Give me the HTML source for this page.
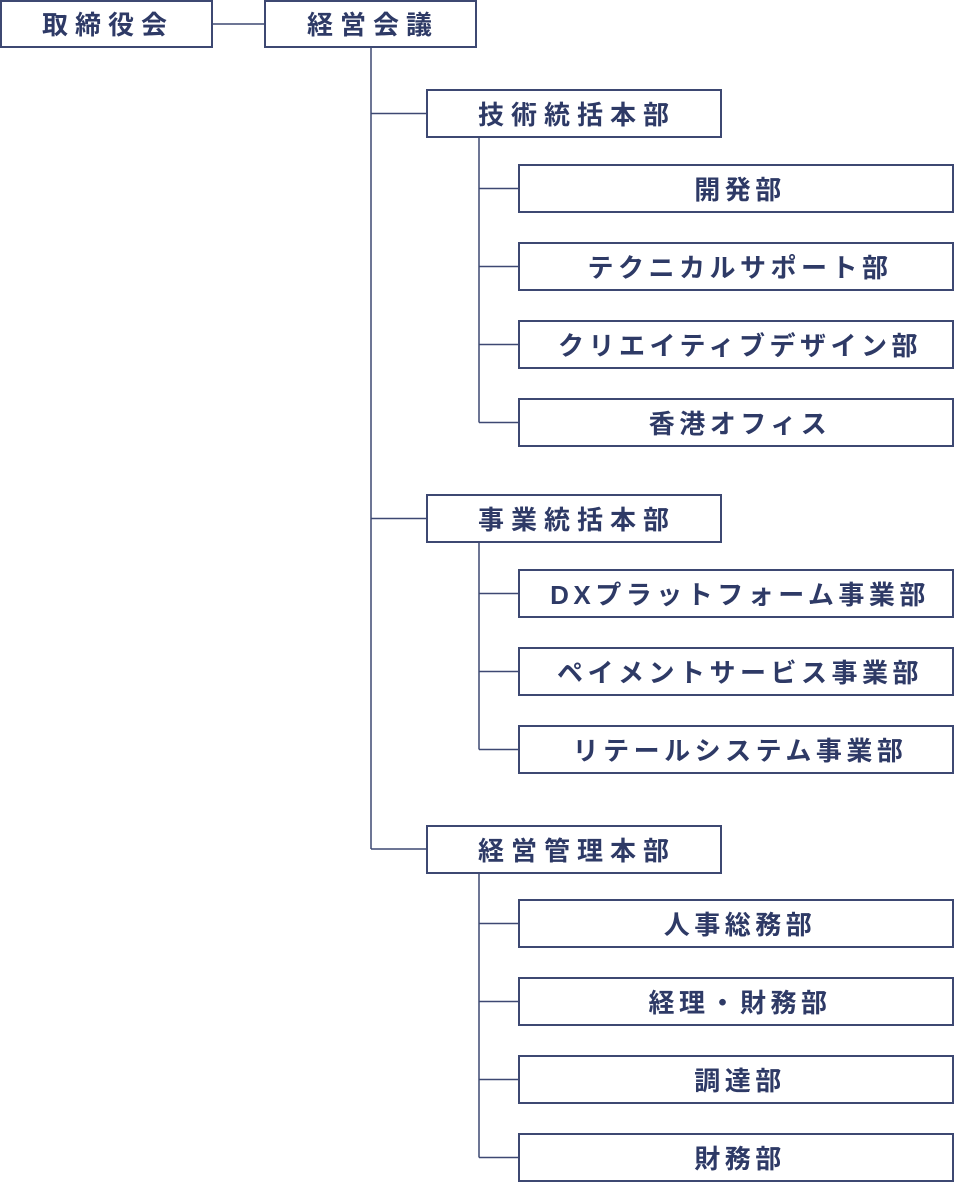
<!DOCTYPE html>
<html><head><meta charset="utf-8"><style>
html,body{margin:0;padding:0;background:#fff;}
svg{display:block;}
text{font-family:"Liberation Sans","Noto Sans CJK JP",sans-serif;font-weight:bold;font-size:26px;fill:#2e3a66;text-anchor:middle;dominant-baseline:central;}
</style></head><body>
<svg width="954" height="1182" viewBox="0 0 954 1182" xmlns="http://www.w3.org/2000/svg">
<g stroke="#3d4872" stroke-width="1.5" fill="none">
<line x1="212" y1="24" x2="265" y2="24"/>
<line x1="371" y1="47" x2="371" y2="849"/>
<line x1="371" y1="113.5" x2="427" y2="113.5"/>
<line x1="371" y1="518.5" x2="427" y2="518.5"/>
<line x1="371" y1="849" x2="427" y2="849"/>
<line x1="479" y1="137" x2="479" y2="422.5"/>
<line x1="479" y1="188.5" x2="519" y2="188.5"/>
<line x1="479" y1="266.5" x2="519" y2="266.5"/>
<line x1="479" y1="344.5" x2="519" y2="344.5"/>
<line x1="479" y1="422.5" x2="519" y2="422.5"/>
<line x1="479" y1="542" x2="479" y2="749.5"/>
<line x1="479" y1="593.5" x2="519" y2="593.5"/>
<line x1="479" y1="671.5" x2="519" y2="671.5"/>
<line x1="479" y1="749.5" x2="519" y2="749.5"/>
<line x1="479" y1="873" x2="479" y2="1157.5"/>
<line x1="479" y1="923.5" x2="519" y2="923.5"/>
<line x1="479" y1="1001.5" x2="519" y2="1001.5"/>
<line x1="479" y1="1079.5" x2="519" y2="1079.5"/>
<line x1="479" y1="1157.5" x2="519" y2="1157.5"/>
</g>
<g stroke="#3d4872" stroke-width="2" fill="#fff">
<rect x="1" y="1" width="211" height="46"/>
<rect x="265" y="1" width="211" height="46"/>
<rect x="427" y="90" width="294" height="47"/>
<rect x="427" y="495" width="294" height="47"/>
<rect x="427" y="826" width="294" height="47"/>
<rect x="519" y="165" width="434" height="47"/>
<rect x="519" y="243" width="434" height="47"/>
<rect x="519" y="321" width="434" height="47"/>
<rect x="519" y="399" width="434" height="47"/>
<rect x="519" y="570" width="434" height="47"/>
<rect x="519" y="648" width="434" height="47"/>
<rect x="519" y="726" width="434" height="47"/>
<rect x="519" y="900" width="434" height="47"/>
<rect x="519" y="978" width="434" height="47"/>
<rect x="519" y="1056" width="434" height="47"/>
<rect x="519" y="1134" width="434" height="47"/>
</g>
<g style="letter-spacing:7px">
<text x="108" y="25">取締役会</text>
<text x="373" y="25">経営会議</text>
<text x="577" y="115">技術統括本部</text>
<text x="577" y="520">事業統括本部</text>
<text x="577" y="851">経営管理本部</text>
</g>
<g style="letter-spacing:4.5px">
<text x="740" y="190">開発部</text>
<text x="740" y="268">テクニカルサポート部</text>
<text x="740" y="346">クリエイティブデザイン部</text>
<text x="740" y="424">香港オフィス</text>
<text x="740" y="595">DXプラットフォーム事業部</text>
<text x="740" y="673">ペイメントサービス事業部</text>
<text x="740" y="751">リテールシステム事業部</text>
<text x="740" y="925">人事総務部</text>
<text x="740" y="1003">経理・財務部</text>
<text x="740" y="1081">調達部</text>
<text x="740" y="1159">財務部</text>
</g>
</svg>
</body></html>
